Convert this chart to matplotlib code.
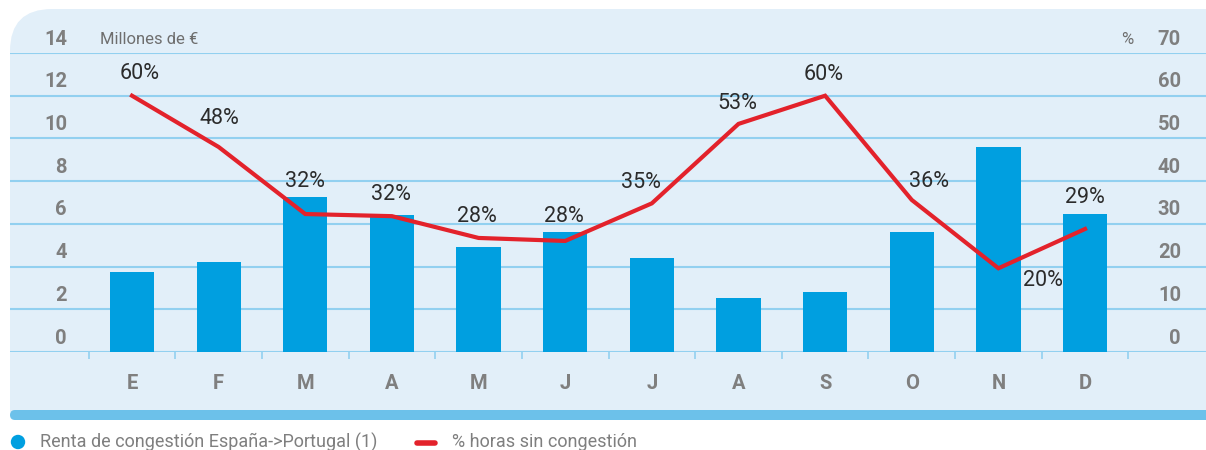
import matplotlib
matplotlib.use("Agg")
import matplotlib.pyplot as plt
from matplotlib.path import Path
from matplotlib.patches import PathPatch, FancyBboxPatch, Circle
from matplotlib.lines import Line2D
from matplotlib.transforms import blended_transform_factory, offset_copy

plt.rcParams['font.family'] = ['Roboto', 'DejaVu Sans']

# ---------------- data ----------------
months = ['E', 'F', 'M', 'A', 'M', 'J', 'J', 'A', 'S', 'O', 'N', 'D']
renta = [3.75, 4.2, 7.25, 6.4, 4.9, 5.6, 4.4, 2.55, 2.8, 5.6, 9.6, 6.45]
pct_sin_congestion = [60, 48, 32.3, 31.8, 26.7, 26, 34.8, 53.4, 60, 35.6, 19.6, 28.8]
pct_labels = ['60%', '48%', '32%', '32%', '28%', '28%', '35%', '53%', '60%', '36%', '20%', '29%']
left_ticks = [0, 2, 4, 6, 8, 10, 12, 14]
right_ticks = [0, 10, 20, 30, 40, 50, 60, 70]
legend_labels = ['Renta de congestión España->Portugal (1)', '% horas sin congestión']

# label offsets (pixels) relative to line points
lab_dx = [8, 1, 0, -1, -2, -1, -11, -1, -1, 17, 45, 0]
lab_dy = [22, 28, 33, 22, 21, 24, 21, 20, 21, 18, -12, 31]

# ---------------- style ----------------
W, H = 1206, 450
BG = '#E2EFF9'
STRIP = '#6CC1EA'
GRID = '#92D0F0'
BAR = '#009FE0'
RED = '#E3222B'
GRAY = '#7F7F7F'

fig = plt.figure(figsize=(W / 100, H / 100), dpi=100)
fig.patch.set_facecolor('white')
inch = fig.dpi_scale_trans

def P(x, y):
    return (x / 100.0, (H - y) / 100.0)

# panel with rounded top-left corner
r = 42
verts = [P(10, 412), P(10, 9 + r), P(10, 9), P(10 + r, 9), P(1260, 9), P(1260, 412), P(10, 412)]
codes = [Path.MOVETO, Path.LINETO, Path.CURVE3, Path.CURVE3, Path.LINETO, Path.LINETO, Path.CLOSEPOLY]
fig.patches.append(PathPatch(Path(verts, codes), facecolor=BG, edgecolor='none',
                             transform=inch, zorder=0.1))
# bottom strip
x0, y0 = P(10, 420)
fig.patches.append(FancyBboxPatch((x0, y0), 13.0, 0.10,
                                  boxstyle='round,pad=0,rounding_size=0.05',
                                  facecolor=STRIP, edgecolor='none', transform=inch, zorder=0.2))

# ---------------- axes ----------------
x_left = -1.408
x_right = 12.396
ax = fig.add_axes([10 / W, (H - 352) / H, 1196 / W, 299 / H])
ax.set_zorder(1)
ax.set_facecolor('none')
ax.set_xlim(x_left, x_right)
ax.set_ylim(0, 14)
for s in ax.spines.values():
    s.set_visible(False)

xs = list(range(len(months)))
ax.bar(xs, renta, width=0.51, color=BAR, zorder=3)

# gridlines incl. baseline
for t in left_ticks:
    ax.axhline(t, color=GRID, lw=1.5, zorder=1)

# x ticks: marks between months, labels at months
ax.set_xticks([i - 0.5 for i in range(len(months) + 1)])
ax.set_xticklabels([])
ax.tick_params(axis='x', which='major', length=5, width=1.2, color=GRID, direction='out')
ax.set_xticks(xs, minor=True)
ax.set_xticklabels(months, minor=True, fontsize=14.5, fontweight='bold', color=GRAY)
ax.tick_params(axis='x', which='minor', length=0, pad=16)
ax.set_yticks([])

ax2 = ax.twinx()
ax2.set_zorder(2)
ax2.set_facecolor('none')
ax2.set_ylim(0, 70)
ax2.set_xlim(x_left, x_right)
for s in ax2.spines.values():
    s.set_visible(False)
ax2.set_yticks([])
ax2.plot(xs, pct_sin_congestion, color=RED, lw=3.0, solid_joinstyle='miter', zorder=5)

for i, (v, lab) in enumerate(zip(pct_sin_congestion, pct_labels)):
    tr = offset_copy(ax2.transData, fig=fig, x=lab_dx[i] * 0.72, y=lab_dy[i] * 0.72, units='points')
    ax2.text(i, v, lab, transform=tr, ha='center', va='center', fontsize=15.5, color='#2B2B2B')

# y tick labels (placed above their gridlines)
trL = offset_copy(blended_transform_factory(fig.transFigure, ax.transData), fig=fig,
                  x=0, y=14 * 0.72, units='points')
for t in left_ticks:
    fig.text(67 / W, t, str(t), transform=trL, ha='right', va='center',
             fontsize=14.5, fontweight='bold', color=GRAY, zorder=3)
trR = offset_copy(blended_transform_factory(fig.transFigure, ax2.transData), fig=fig,
                  x=0, y=14 * 0.72, units='points')
for t in right_ticks:
    fig.text(1181 / W, t, str(t), transform=trR, ha='right', va='center',
             fontsize=14.5, fontweight='bold', color=GRAY, zorder=3)

fig.text(100 / W, 1 - 39 / H, 'Millones de €', ha='left', va='center', fontsize=12, color='#6E6E6E', zorder=3)
fig.text(1127 / W, 1 - 39 / H, '%', ha='center', va='center', fontsize=12, color='#6E6E6E', zorder=3)

# ---------------- legend ----------------
cx, cy = P(18, 442)
fig.patches.append(Circle((cx, cy), 0.072, facecolor=BAR, edgecolor='none', transform=inch, zorder=3))
fig.text(40 / W, 1 - 442 / H, legend_labels[0], ha='left', va='center', fontsize=13, color=GRAY, zorder=3)
lx0, ly = P(417, 443)
lx1, _ = P(435, 443)
fig.lines.append(Line2D([lx0, lx1], [ly, ly], color=RED, lw=4, solid_capstyle='round', transform=inch, zorder=3))
fig.text(452 / W, 1 - 442 / H, legend_labels[1], ha='left', va='center', fontsize=13, color=GRAY, zorder=3)

fig.savefig('out.png', dpi=100, facecolor='white')
